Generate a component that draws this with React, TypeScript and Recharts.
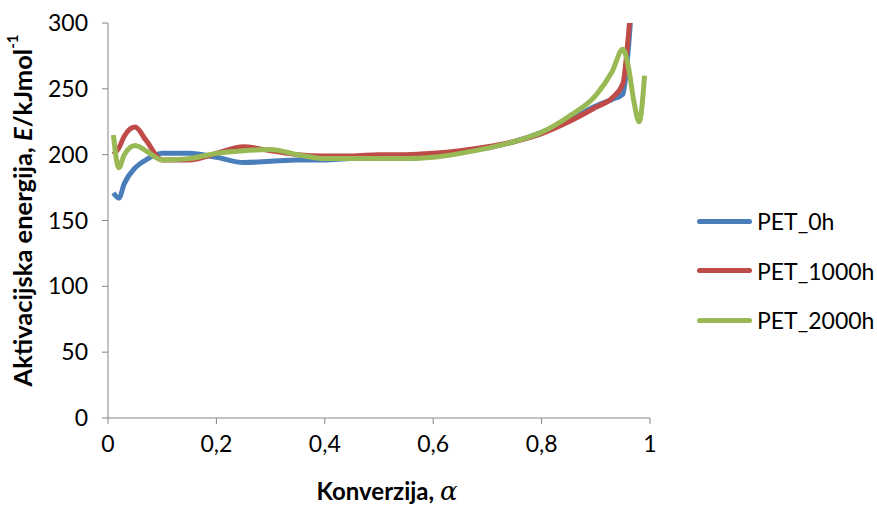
import React from 'react';
import { LineChart, Line, XAxis, YAxis, Label } from 'recharts';

const alpha = [0.01, 0.02, 0.03, 0.05, 0.07, 0.1, 0.15, 0.2, 0.25, 0.3, 0.35, 0.4, 0.45, 0.5, 0.55, 0.6, 0.65, 0.7, 0.75, 0.8, 0.85, 0.9, 0.93, 0.95, 0.96, 0.97, 0.98, 0.99];
const pet0h = [171, 167, 178, 190, 196, 201, 201, 198, 194, 195, 196, 196, 197, 197, 197, 199, 202, 205, 210, 217, 226, 237, 242, 246, 280, 340, null, null];
const pet1000h = [200, 205, 214, 221, 211, 196, 196, 201, 206, 203, 200, 199, 199, 200, 200, 201, 203, 206, 210, 216, 225, 236, 243, 254, 290, 340, null, null];
const pet2000h = [215, 190, 200, 207, 203, 196, 197, 201, 203, 204, 200, 197, 197, 197, 197, 198, 201, 205, 210, 217, 229, 245, 263, 280, 267, 241, 225, 260];
const xTicks = [0, 0.2, 0.4, 0.6, 0.8, 1];
const yTicks = [0, 50, 100, 150, 200, 250, 300];
const seriesNames = ['PET_0h', 'PET_1000h', 'PET_2000h'];
const colors = ['#4A7EBB', '#BE4B48', '#98B954'];

const data = alpha.map((a, i) => ({ a, s0: pet0h[i], s1: pet1000h[i], s2: pet2000h[i] }));

const FONT = 'Lato, "Liberation Sans", sans-serif';

const YLabel = (props: any) => {
  const { viewBox } = props;
  const cx = 22;
  const cy = viewBox.y + viewBox.height / 2 - 10;
  return (
    <text x={cx} y={cy} transform={`rotate(-90, ${cx}, ${cy})`} textAnchor="middle" dominantBaseline="central"
      fontFamily={FONT} fontWeight="bold" fontSize={25.5} fill="#000">
      <tspan>Aktivacijska energija, </tspan>
      <tspan fontStyle="italic">E</tspan>
      <tspan>/kJmol</tspan>
      <tspan fontSize={15} dy={-10}>-1</tspan>
    </text>
  );
};

const XLabel = (props: any) => {
  const { viewBox } = props;
  const cx = viewBox.x + viewBox.width / 2 + 8;
  return (
    <text x={cx} y={500} textAnchor="middle" fontFamily={FONT} fontWeight="bold" fontSize={24} fill="#000">
      <tspan>Konverzija, </tspan>
      <tspan fontFamily="'DejaVu Serif', serif" fontStyle="italic" fontWeight="normal" fontSize={26}>α</tspan>
    </text>
  );
};

export default function App() {
  return (
    <div style={{ position: 'absolute', left: 0, top: 0, width: 877, height: 509, background: '#fff' }}>
      <LineChart width={877} height={509} data={data} margin={{ top: 23, right: 227, bottom: 41, left: 0 }}>
        <XAxis dataKey="a" type="number" domain={[0, 1]} ticks={xTicks} height={50}
          tickFormatter={(v: number) => String(v).replace('.', ',')}
          stroke="#868686" tickLine={{ stroke: '#868686' }} tickSize={6}
          tick={{ fill: '#000', fontSize: 23, fontFamily: FONT, dy: 10 }}>
          <Label content={<XLabel />} />
        </XAxis>
        <YAxis type="number" domain={[0, 300]} ticks={yTicks} allowDataOverflow width={108}
          stroke="#868686" tickLine={{ stroke: '#868686' }} tickSize={6}
          tick={{ fill: '#000', fontSize: 23, fontFamily: FONT, dx: -12 }}>
          <Label content={<YLabel />} />
        </YAxis>
        {['s0', 's1', 's2'].map((k, i) => (
          <Line key={k} dataKey={k} type="monotone" stroke={colors[i]} strokeWidth={5} dot={false}
            connectNulls={false} isAnimationActive={false} name={seriesNames[i]} />
        ))}
      </LineChart>
      <div style={{ position: 'absolute', left: 697, top: 204 }}>
        {seriesNames.map((n, i) => (
          <div key={n} style={{ display: 'flex', alignItems: 'center', height: 34, marginBottom: 15.5 }}>
            <div style={{ width: 55, height: 5, borderRadius: 3, background: colors[i], marginRight: 5 }} />
            <span style={{ fontFamily: FONT, fontSize: 23, color: '#000' }}>{n}</span>
          </div>
        ))}
      </div>
    </div>
  );
}
